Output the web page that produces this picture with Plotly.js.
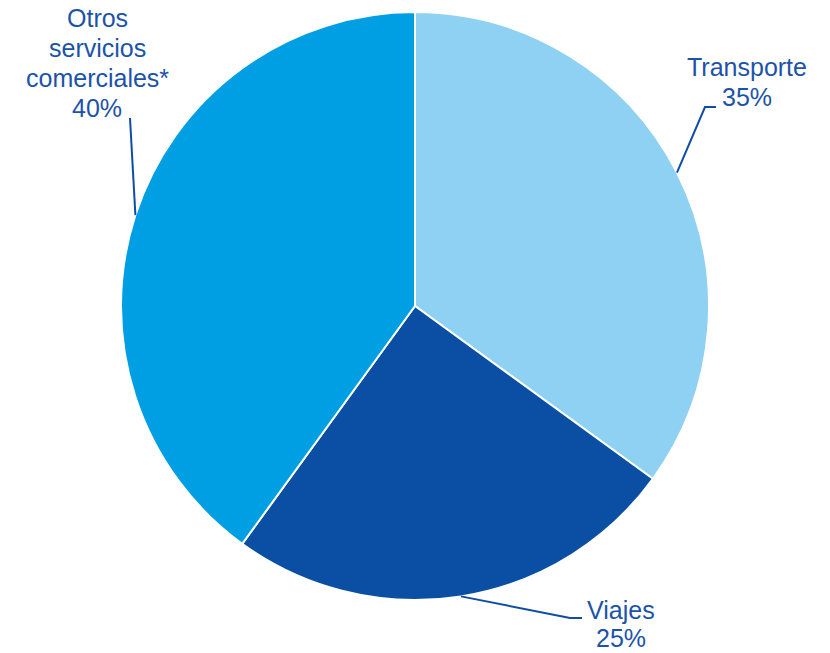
<!DOCTYPE html>
<html>
<head>
<meta charset="utf-8">
<script src="https://cdn.plot.ly/plotly-3.0.1.min.js"></script>
<style>html,body{margin:0;padding:0;background:#fff;}#chart{width:830px;height:653px;}</style>
</head>
<body>
<div id="chart"></div>
<script>
// Data
const categories = ["Transporte", "Viajes", "Otros servicios comerciales*"];
const labelLines = [["Transporte"], ["Viajes"], ["Otros", "servicios", "comerciales*"]];
const shares = [35, 25, 40];
const colors = ["#8ED1F3", "#0A4FA3", "#009FE3"];

const W = 830, H = 653;
const cx = 415, cy = 306, R = 294;
const textColor = "#1C53AA";
const lineColor = "#0F4DA5";

// label layout (pixel positions: first line centre, line gap, leader elbow and end)
const labelPos = [
  {x: 747, y: 67, gap: 30, elbow: [705, 107], end: [716, 107]},
  {x: 621, y: 610, gap: 28, elbow: [570, 618], end: [582, 618]},
  {x: 97, y: 18, gap: 30, elbow: null, end: [130, 118]}
];

const px = x => x / W;
const py = y => 1 - y / H;

const total = shares.reduce((a, b) => a + b, 0);
const shapes = [];
const annotations = [];
let cum = 0;
shares.forEach((v, i) => {
  const mid = (cum + v / 2) / total * 2 * Math.PI;
  cum += v;
  const ax = cx + R * Math.sin(mid);
  const ay = cy - R * Math.cos(mid);
  const lp = labelPos[i];
  let path = `M${px(ax)},${py(ay)}`;
  if (lp.elbow) path += ` L${px(lp.elbow[0])},${py(lp.elbow[1])}`;
  path += ` L${px(lp.end[0])},${py(lp.end[1])}`;
  shapes.push({type: "path", xref: "paper", yref: "paper", path: path,
    line: {color: lineColor, width: 2}});
  const lines = labelLines[i].concat([Math.round(v / total * 100) + "%"]);
  lines.forEach((t, k) => {
    annotations.push({xref: "paper", yref: "paper", x: px(lp.x), y: py(lp.y + k * lp.gap),
      xanchor: "center", yanchor: "middle", showarrow: false, align: "center",
      text: t,
      font: {family: "Liberation Sans, Arial, sans-serif", size: 25, color: textColor}});
  });
});

const data = [{
  type: "pie",
  labels: categories,
  values: shares,
  sort: false,
  direction: "clockwise",
  rotation: 0,
  textinfo: "none",
  hoverinfo: "label+percent",
  marker: {colors: colors, line: {color: "#ffffff", width: 2}},
  domain: {x: [(cx - R) / W, (cx + R) / W], y: [(H - cy - R) / H, (H - cy + R) / H]}
}];

const layout = {
  width: W, height: H,
  margin: {l: 0, r: 0, t: 0, b: 0},
  showlegend: false,
  paper_bgcolor: "#ffffff",
  shapes: shapes,
  annotations: annotations
};

Plotly.newPlot("chart", data, layout, {displayModeBar: false, staticPlot: true});
</script>
</body>
</html>
